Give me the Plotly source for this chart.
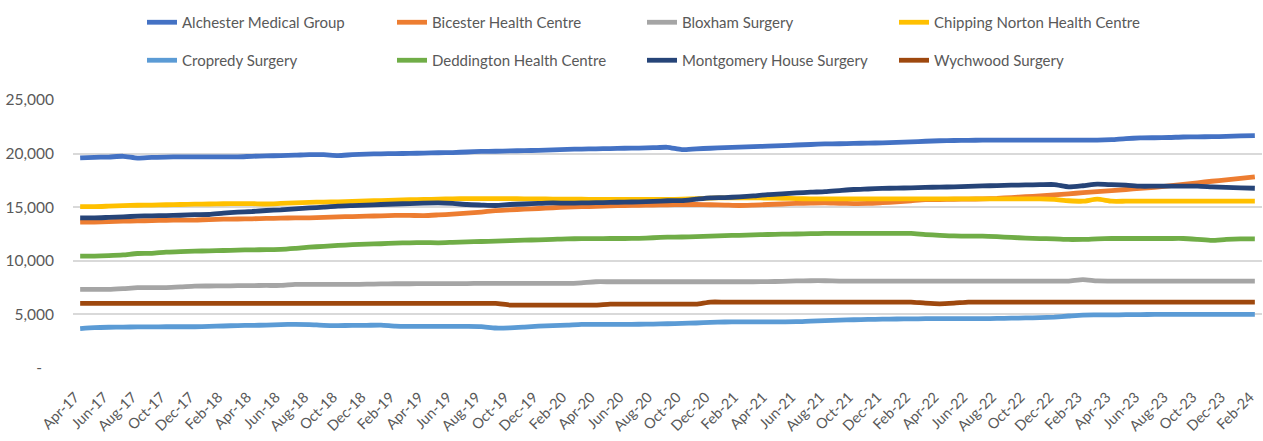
import pandas as pd
import plotly.graph_objects as go

months = [d.strftime("%b-%y") for d in pd.date_range("2017-04-01", "2024-02-01", freq="MS")]

alchester = [19600,19650,19680,19750,19580,19650,19680,19700,19700,19700,
             19700,19700,19750,19780,19820,19850,19900,19900,19820,19900,
             19950,19980,20000,20020,20050,20080,20100,20150,20200,20220,
             20250,20280,20300,20350,20400,20420,20450,20470,20500,20520,
             20550,20590,20380,20450,20500,20550,20600,20650,20690,20750,
             20800,20850,20900,20920,20950,20980,21000,21050,21100,21150,
             21200,21220,21240,21250,21250,21250,21250,21250,21250,21250,
             21250,21250,21300,21400,21460,21480,21500,21550,21560,21580,
             21600,21650,21680]
bicester = [13600,13620,13650,13700,13720,13750,13780,13790,13800,13850,
            13880,13900,13920,13950,13980,14000,14010,14050,14100,14130,
            14160,14200,14230,14230,14220,14280,14350,14450,14550,14690,
            14750,14820,14880,14950,15000,15050,15080,15120,15160,15180,
            15200,15230,15250,15250,15230,15200,15160,15200,15250,15300,
            15350,15380,15400,15360,15340,15350,15420,15500,15600,15700,
            15720,15740,15750,15780,15820,15900,15980,16050,16150,16250,
            16350,16450,16550,16650,16760,16860,16990,17130,17280,17420,
            17550,17680,17830]
bloxham = [7330,7330,7330,7400,7490,7500,7500,7560,7640,7650,
           7660,7680,7690,7700,7700,7800,7800,7800,7800,7800,
           7820,7840,7860,7860,7870,7880,7880,7880,7890,7890,
           7890,7890,7890,7890,7890,7950,8045,8045,8045,8045,
           8045,8045,8045,8045,8045,8045,8045,8045,8060,8080,
           8120,8140,8140,8110,8110,8110,8110,8110,8110,8110,
           8110,8110,8110,8110,8110,8110,8110,8110,8110,8110,
           8250,8120,8110,8110,8110,8110,8110,8110,8110,8110,
           8110,8110,8110]
chipping = [15050,15050,15100,15150,15180,15200,15230,15250,15280,15300,
            15320,15340,15330,15300,15350,15400,15450,15480,15500,15550,
            15580,15620,15650,15700,15720,15750,15780,15800,15800,15800,
            15800,15780,15780,15760,15750,15740,15720,15720,15720,15720,
            15720,15720,15750,15800,15850,15870,15870,15870,15850,15830,
            15800,15780,15780,15780,15780,15780,15780,15780,15780,15780,
            15780,15780,15780,15780,15780,15780,15780,15780,15720,15600,
            15560,15750,15560,15560,15560,15560,15560,15560,15560,15560,
            15560,15560,15560]
cropredy = [3670,3760,3800,3820,3830,3840,3850,3850,3850,3880,
            3920,3960,3980,4000,4050,4070,4050,3980,3960,3975,
            3980,4000,3900,3880,3880,3880,3880,3880,3860,3730,
            3750,3820,3900,3950,4000,4070,4070,4070,4070,4080,
            4100,4130,4160,4200,4250,4290,4300,4300,4300,4310,
            4320,4380,4420,4470,4500,4535,4550,4570,4580,4600,
            4600,4600,4600,4600,4620,4650,4670,4690,4750,4850,
            4940,4950,4960,4970,4980,5000,5000,5000,5000,5000,
            5000,5000,5000]
deddington = [10440,10440,10480,10550,10680,10700,10810,10850,10900,10930,
              10960,11000,11020,11040,11060,11150,11270,11350,11430,11500,
              11550,11590,11650,11680,11700,11680,11720,11760,11800,11830,
              11880,11920,11960,12000,12050,12060,12070,12080,12080,12100,
              12150,12200,12220,12260,12300,12350,12380,12420,12455,12480,
              12500,12530,12550,12550,12550,12550,12550,12550,12550,12450,
              12380,12320,12300,12300,12250,12180,12120,12070,12050,11990,
              12000,12050,12080,12080,12080,12080,12080,12080,12000,11900,
              12000,12050,12050]
montgomery = [14000,14000,14050,14100,14160,14200,14220,14250,14300,14320,
              14450,14540,14600,14690,14750,14850,14940,15000,15100,15150,
              15190,15250,15300,15340,15380,15400,15350,15250,15200,15160,
              15250,15300,15350,15400,15380,15400,15420,15450,15470,15500,
              15550,15600,15620,15750,15870,15900,15960,16050,16180,16250,
              16330,16400,16450,16550,16650,16700,16750,16780,16800,16850,
              16870,16900,16950,16980,17020,17050,17080,17100,17110,16900,
              17000,17150,17100,17050,16960,16960,16960,16960,16960,16900,
              16850,16800,16770]
wychwood = [6030]*30 + [5870]*7 + [5960]*7 + [6150]*15 + [6050,5990,6050] + [6150]*21

series_names = ["Alchester Medical Group", "Bicester Health Centre", "Bloxham Surgery",
                "Chipping Norton Health Centre", "Cropredy Surgery", "Deddington Health Centre",
                "Montgomery House Surgery", "Wychwood Surgery"]
series_values = [alchester, bicester, bloxham, chipping, cropredy, deddington, montgomery, wychwood]
colors = ["#4472C4", "#ED7D31", "#A5A5A5", "#FFC000", "#5B9BD5", "#70AD47", "#264478", "#9E480E"]

y_tickvals = [0, 5000, 10000, 15000, 20000, 25000]
y_ticktext = ["-\u00a0\u00a0\u00a0", "5,000", "10,000", "15,000", "20,000", "25,000"]

FONT = "Lato, Liberation Sans, Arial, sans-serif"
GREY = "#595959"

legend_ids = ["legend", "legend2", "legend3", "legend4"]
fig = go.Figure()
for k, (name, vals, col) in enumerate(zip(series_names, series_values, colors)):
    fig.add_trace(go.Scatter(
        x=months, y=vals, name=name, mode="lines",
        line=dict(color=col, width=4.8, shape="spline", smoothing=0.6),
        legend=legend_ids[k % 4], legendgroup=name,
    ))

legend_x = [142, 392, 642, 894]
common_leg = dict(
    orientation="v", xref="container", yref="container", xanchor="left", yanchor="top",
    y=1.0 - 6 / 441, bgcolor="rgba(0,0,0,0)", font=dict(family=FONT, size=15, color=GREY),
    tracegroupgap=15.5, traceorder="grouped", itemwidth=30,
)
leg_layout = {}
for lid, lx in zip(legend_ids, legend_x):
    leg_layout[lid] = dict(common_leg, x=lx / 1263)

fig.update_layout(
    width=1263, height=441,
    margin=dict(l=73, r=1, t=100, b=73, autoexpand=False),
    paper_bgcolor="white", plot_bgcolor="white",
    font=dict(family=FONT, color=GREY),
    showlegend=True,
    **leg_layout,
)
fig.update_xaxes(
    type="category", range=[-0.5, len(months) - 0.5],
    tickvals=months[::2], ticktext=months[::2], tickangle=-45,
    tickfont=dict(family=FONT, size=14.5, color=GREY),
    showgrid=False, showline=False, ticks="", zeroline=False, automargin=False,
    ticklabelshift=-5, ticklabelstandoff=17,
)
fig.update_yaxes(
    range=[0, 25000], tickvals=y_tickvals, ticktext=y_ticktext,
    tickfont=dict(family=FONT, size=15.5, color=GREY),
    showgrid=True, gridcolor="#D9D9D9", gridwidth=1.5,
    zeroline=False, showline=False, ticks="", ticklabelstandoff=18, automargin=False,
)
fig.write_html(
    "out.html",
    config={"displayModeBar": False},
    post_script="document.body.style.margin='0';document.body.style.padding='0';document.body.style.overflow='hidden';",
)
